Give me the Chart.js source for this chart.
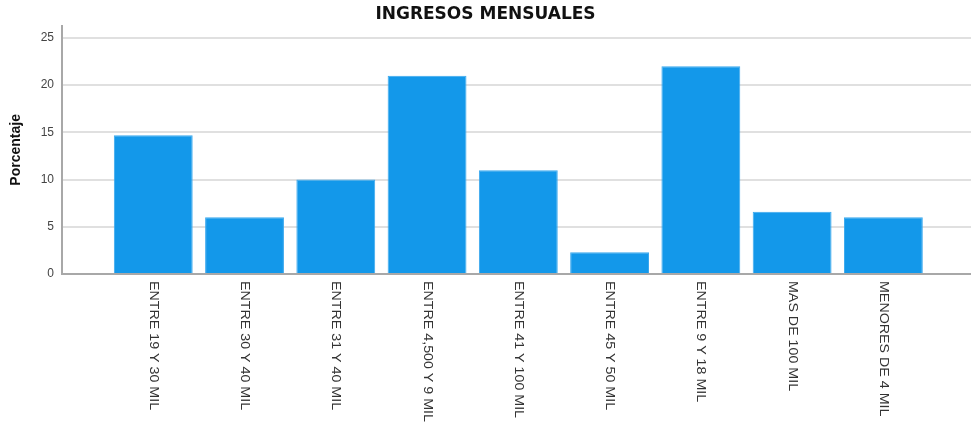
<!DOCTYPE html>
<html>
<head>
<meta charset="utf-8">
<script src="https://cdn.jsdelivr.net/npm/chart.js@4/dist/chart.umd.min.js"></script>
<style>
  html, body { margin:0; padding:0; background:#fff; }
  #wrap { width:971px; height:426px; }
</style>
</head>
<body>
<div id="wrap"><canvas id="barChart"></canvas></div>
<script>
// ---- DATA ----
const categories = ['ENTRE 19 Y 30 MIL','ENTRE 30 Y 40 MIL','ENTRE 31 Y 40 MIL','ENTRE 4,500 Y 9 MIL',
  'ENTRE 41 Y 100 MIL','ENTRE 45 Y 50 MIL','ENTRE 9 Y 18 MIL','MAS DE 100 MIL','MENORES DE 4 MIL'];
const percentages = [14.7, 6.0, 10.0, 21.0, 11.0, 2.3, 22.0, 6.6, 6.0];
const yTicks = [0, 5, 10, 15, 20, 25];

const sans = '"Liberation Sans", Arial, sans-serif';

// category labels rotated clockwise (read top to bottom), starting just under the axis
const catLabels = {
  id:'catLabels',
  afterDraw(chart) {
    const x = chart.scales.x, ctx = chart.ctx, top = chart.chartArea.bottom + 7;
    ctx.save();
    ctx.fillStyle = '#333';
    ctx.font = '15px ' + sans;
    ctx.textAlign = 'left';
    ctx.textBaseline = 'middle';
    categories.forEach((c, i) => {
      ctx.save();
      ctx.translate(x.getPixelForValue(i), top);
      ctx.rotate(Math.PI / 2);
      ctx.scale(0.95, 0.85);
      ctx.fillText(c, 0, 0);
      ctx.restore();
    });
    ctx.restore();
  }
};

new Chart(document.getElementById('barChart'), {
  type:'bar',
  data:{
    datasets:[{
      label:'Porcentaje',
      data: percentages.map((v, i) => ({ x:i, y:v })),
      backgroundColor:'#1398ea',
      borderColor:'#3aa8ee',
      borderWidth:1,
      categoryPercentage:1,
      barPercentage:0.9
    }]
  },
  options:{
    responsive:true, maintainAspectRatio:false, animation:false,
    layout:{ padding:0 },
    plugins:{
      legend:{ display:false },
      tooltip:{ enabled:false },
      title:{ display:true, text:'INGRESOS MENSUALES', color:'#111',
        font:{ family:'"DejaVu Sans", sans-serif', size:17, weight:'bold', lineHeight:1.1 },
        padding:{ top:5, bottom:2 } }
    },
    scales:{
      x:{
        type:'linear', min:-1, max:8.96, offset:false,
        grid:{ display:false },
        border:{ display:true, color:'#a8a8a8', width:2 },
        ticks:{ display:false },
        afterFit: s => { s.height = 152; }
      },
      y:{
        min:0, max:26.3,
        grid:{ color:'#e0e0e0', lineWidth:2, drawTicks:false },
        border:{ display:true, color:'#a8a8a8', width:2 },
        afterBuildTicks: s => { s.ticks = yTicks.map(v => ({ value:v })); },
        ticks:{ color:'#444', padding:8, font:{ family:sans, size:12 } },
        title:{ display:true, text:'Porcentaje', color:'#111', padding:{ top:8, bottom:6 },
          font:{ family:sans, size:14, weight:'bold' } },
        afterFit: s => { s.width = 62; }
      }
    }
  },
  plugins:[catLabels]
});
</script>
</body>
</html>
